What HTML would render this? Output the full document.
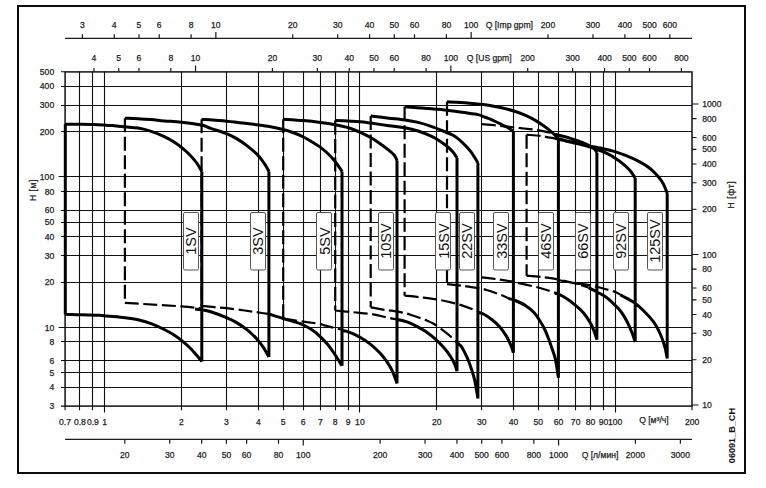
<!DOCTYPE html>
<html><head><meta charset="utf-8"><style>
html,body{margin:0;padding:0;background:#fff;width:766px;height:488px;overflow:hidden}
svg{display:block}
</style></head><body><svg width="766" height="488" viewBox="0 0 766 488"><rect x="18" y="6" width="727" height="467" fill="none" stroke="#000" stroke-width="1.9"/>
<rect x="65.1" y="71.91" width="626.9" height="334.19" stroke="#111" stroke-width="1.5" fill="none"/>
<path d="M61 406.1 H65.1 M61 387.5 H692 M61 372.5 H692 M61 360.5 H692 M61 341.5 H692 M58.7 327.5 H692 M61 282.5 H692 M61 255.5 H692 M61 236.5 H692 M61 222.5 H692 M61 210.5 H692 M61 191.5 H692 M58.7 176.5 H692 M61 131.5 H692 M61 105.5 H692 M61 86.5 H692 M61 71.71 H65.1 M65.05 406.1 V410.3 M79.5 71.5 V410.3 M92.5 71.5 V410.3 M104.5 71.5 V412.4 M181.5 71.5 V410.3 M226.5 71.5 V410.3 M258.5 71.5 V410.3 M283.5 71.5 V410.3 M303.5 71.5 V410.3 M320.5 71.5 V410.3 M335.5 71.5 V410.3 M348.5 71.5 V410.3 M359.5 71.5 V412.4 M436.5 71.5 V410.3 M481.5 71.5 V410.3 M513.5 71.5 V410.3 M538.5 71.5 V410.3 M558.5 71.5 V410.3 M575.5 71.5 V410.3 M590.5 71.5 V410.3 M603.5 71.5 V410.3 M615.5 71.5 V412.4 M692 406.1 V410.3" stroke="#111" stroke-width="1.1" fill="none"/>
<path d="M692 405.06 H698.5 M692 359.76 H696.5 M692 333.26 H696.5 M692 314.45 H696.5 M692 299.87 H696.5 M692 287.95 H696.5 M692 269.15 H696.5 M692 254.56 H698.5 M692 209.26 H696.5 M692 182.76 H696.5 M692 163.95 H696.5 M692 149.37 H696.5 M692 137.45 H696.5 M692 118.65 H696.5 M692 104.06 H698.5" stroke="#111" stroke-width="1.1" fill="none"/>
<path d="M65.1 38.4 H692 M82.37 34.3 V38.4 M114.26 34.3 V38.4 M139 34.3 V38.4 M159.22 34.3 V38.4 M191.12 34.3 V38.4 M215.86 32 V38.4 M292.71 34.3 V38.4 M337.67 34.3 V38.4 M369.56 34.3 V38.4 M394.3 34.3 V38.4 M414.52 34.3 V38.4 M446.42 34.3 V38.4 M471.16 32 V38.4 M548.01 34.3 V38.4 M592.97 34.3 V38.4 M624.86 34.3 V38.4 M649.6 34.3 V38.4 M669.82 34.3 V38.4" stroke="#1a1a1a" stroke-width="1.2" fill="none"/>
<path d="M93.96 68.1 V71.71 M118.7 68.1 V71.71 M138.92 68.1 V71.71 M170.81 68.1 V71.71 M195.55 65.4 V71.71 M272.41 68.1 V71.71 M317.36 68.1 V71.71 M349.26 68.1 V71.71 M374 68.1 V71.71 M394.22 68.1 V71.71 M426.11 68.1 V71.71 M450.85 65.4 V71.71 M527.71 68.1 V71.71 M572.66 68.1 V71.71 M604.56 68.1 V71.71 M629.3 68.1 V71.71 M649.52 68.1 V71.71 M681.41 68.1 V71.71" stroke="#1a1a1a" stroke-width="1.2" fill="none"/>
<path d="M65.1 439.3 H692 M124.81 439.3 V443.7 M169.77 439.3 V443.7 M201.67 439.3 V443.7 M226.41 439.3 V443.7 M246.62 439.3 V443.7 M278.52 439.3 V443.7 M303.26 439.3 V445.6 M380.11 439.3 V443.7 M425.07 439.3 V443.7 M456.97 439.3 V443.7 M481.71 439.3 V443.7 M501.92 439.3 V443.7 M533.82 439.3 V443.7 M558.56 439.3 V445.6 M635.41 439.3 V443.7 M680.37 439.3 V443.7" stroke="#1a1a1a" stroke-width="1.2" fill="none"/>
<g font-family='"Liberation Sans", sans-serif' font-size="8.6" fill="#222" stroke="#222" stroke-width="0.25">
<text x="54.2" y="409.2" text-anchor="end">3</text>
<text x="54.2" y="390.4" text-anchor="end">4</text>
<text x="54.2" y="375.81" text-anchor="end">5</text>
<text x="54.2" y="363.89" text-anchor="end">6</text>
<text x="54.2" y="345.09" text-anchor="end">8</text>
<text x="54.2" y="330.51" text-anchor="end">10</text>
<text x="54.2" y="285.2" text-anchor="end">20</text>
<text x="54.2" y="258.7" text-anchor="end">30</text>
<text x="54.2" y="239.9" text-anchor="end">40</text>
<text x="54.2" y="225.31" text-anchor="end">50</text>
<text x="54.2" y="213.39" text-anchor="end">60</text>
<text x="54.2" y="194.59" text-anchor="end">80</text>
<text x="54.2" y="180.01" text-anchor="end">100</text>
<text x="54.2" y="134.7" text-anchor="end">200</text>
<text x="54.2" y="108.2" text-anchor="end">300</text>
<text x="54.2" y="89.4" text-anchor="end">400</text>
<text x="54.2" y="74.81" text-anchor="end">500</text>
<text x="702.3" y="408.16" text-anchor="start">10</text>
<text x="702.3" y="362.86" text-anchor="start">20</text>
<text x="702.3" y="336.36" text-anchor="start">30</text>
<text x="702.3" y="317.55" text-anchor="start">40</text>
<text x="702.3" y="302.97" text-anchor="start">50</text>
<text x="702.3" y="291.05" text-anchor="start">60</text>
<text x="702.3" y="272.25" text-anchor="start">80</text>
<text x="702.3" y="257.66" text-anchor="start">100</text>
<text x="702.3" y="212.36" text-anchor="start">200</text>
<text x="702.3" y="185.86" text-anchor="start">300</text>
<text x="702.3" y="167.05" text-anchor="start">400</text>
<text x="702.3" y="152.47" text-anchor="start">500</text>
<text x="702.3" y="140.55" text-anchor="start">600</text>
<text x="702.3" y="121.75" text-anchor="start">800</text>
<text x="702.3" y="107.16" text-anchor="start">1000</text>
<text x="65.05" y="424.9" text-anchor="middle">0.7</text>
<text x="79.86" y="424.9" text-anchor="middle">0.8</text>
<text x="92.92" y="424.9" text-anchor="middle">0.9</text>
<text x="104.6" y="424.9" text-anchor="middle">1</text>
<text x="181.45" y="424.9" text-anchor="middle">2</text>
<text x="226.41" y="424.9" text-anchor="middle">3</text>
<text x="258.31" y="424.9" text-anchor="middle">4</text>
<text x="283.05" y="424.9" text-anchor="middle">5</text>
<text x="303.26" y="424.9" text-anchor="middle">6</text>
<text x="320.35" y="424.9" text-anchor="middle">7</text>
<text x="335.16" y="424.9" text-anchor="middle">8</text>
<text x="348.22" y="424.9" text-anchor="middle">9</text>
<text x="359.9" y="424.9" text-anchor="middle">10</text>
<text x="436.75" y="424.9" text-anchor="middle">20</text>
<text x="481.71" y="424.9" text-anchor="middle">30</text>
<text x="513.61" y="424.9" text-anchor="middle">40</text>
<text x="538.35" y="424.9" text-anchor="middle">50</text>
<text x="558.56" y="424.9" text-anchor="middle">60</text>
<text x="575.65" y="424.9" text-anchor="middle">70</text>
<text x="590.46" y="424.9" text-anchor="middle">80</text>
<text x="603.52" y="424.9" text-anchor="middle">90</text>
<text x="615.2" y="424.9" text-anchor="middle">100</text>
<text x="692.05" y="424.9" text-anchor="middle">200</text>
<text x="653.9" y="423.4" text-anchor="middle">Q [м³/ч]</text>
<text x="124.81" y="458.3" text-anchor="middle">20</text>
<text x="169.77" y="458.3" text-anchor="middle">30</text>
<text x="201.67" y="458.3" text-anchor="middle">40</text>
<text x="226.41" y="458.3" text-anchor="middle">50</text>
<text x="246.62" y="458.3" text-anchor="middle">60</text>
<text x="278.52" y="458.3" text-anchor="middle">80</text>
<text x="303.26" y="458.3" text-anchor="middle">100</text>
<text x="380.11" y="458.3" text-anchor="middle">200</text>
<text x="425.07" y="458.3" text-anchor="middle">300</text>
<text x="456.97" y="458.3" text-anchor="middle">400</text>
<text x="481.71" y="458.3" text-anchor="middle">500</text>
<text x="501.92" y="458.3" text-anchor="middle">600</text>
<text x="533.82" y="458.3" text-anchor="middle">800</text>
<text x="558.56" y="458.3" text-anchor="middle">1000</text>
<text x="635.41" y="458.3" text-anchor="middle">2000</text>
<text x="680.37" y="458.3" text-anchor="middle">3000</text>
<text x="600" y="458.4" text-anchor="middle">Q [л/мин]</text>
<text x="82.37" y="28.2" text-anchor="middle">3</text>
<text x="114.26" y="28.2" text-anchor="middle">4</text>
<text x="139" y="28.2" text-anchor="middle">5</text>
<text x="159.22" y="28.2" text-anchor="middle">6</text>
<text x="191.12" y="28.2" text-anchor="middle">8</text>
<text x="215.86" y="28.2" text-anchor="middle">10</text>
<text x="292.71" y="28.2" text-anchor="middle">20</text>
<text x="337.67" y="28.2" text-anchor="middle">30</text>
<text x="369.56" y="28.2" text-anchor="middle">40</text>
<text x="394.3" y="28.2" text-anchor="middle">50</text>
<text x="414.52" y="28.2" text-anchor="middle">60</text>
<text x="446.42" y="28.2" text-anchor="middle">80</text>
<text x="471.16" y="28.2" text-anchor="middle">100</text>
<text x="548.01" y="28.2" text-anchor="middle">200</text>
<text x="592.97" y="28.2" text-anchor="middle">300</text>
<text x="624.86" y="28.2" text-anchor="middle">400</text>
<text x="649.6" y="28.2" text-anchor="middle">500</text>
<text x="669.82" y="28.2" text-anchor="middle">600</text>
<text x="509.3" y="28.2" text-anchor="middle">Q [Imp gpm]</text>
<text x="93.96" y="61.3" text-anchor="middle">4</text>
<text x="118.7" y="61.3" text-anchor="middle">5</text>
<text x="138.92" y="61.3" text-anchor="middle">6</text>
<text x="170.81" y="61.3" text-anchor="middle">8</text>
<text x="195.55" y="61.3" text-anchor="middle">10</text>
<text x="272.41" y="61.3" text-anchor="middle">20</text>
<text x="317.36" y="61.3" text-anchor="middle">30</text>
<text x="349.26" y="61.3" text-anchor="middle">40</text>
<text x="374" y="61.3" text-anchor="middle">50</text>
<text x="394.22" y="61.3" text-anchor="middle">60</text>
<text x="426.11" y="61.3" text-anchor="middle">80</text>
<text x="450.85" y="61.3" text-anchor="middle">100</text>
<text x="527.71" y="61.3" text-anchor="middle">200</text>
<text x="572.66" y="61.3" text-anchor="middle">300</text>
<text x="604.56" y="61.3" text-anchor="middle">400</text>
<text x="629.3" y="61.3" text-anchor="middle">500</text>
<text x="649.52" y="61.3" text-anchor="middle">600</text>
<text x="681.41" y="61.3" text-anchor="middle">800</text>
<text x="489.2" y="61.3" text-anchor="middle">Q [US gpm]</text>
<text transform="translate(36.3 190.1) rotate(-90)" text-anchor="middle" letter-spacing="0.5">H [м]</text>
<text transform="translate(734.3 194.7) rotate(-90)" text-anchor="middle" letter-spacing="0.6">H [фт]</text>
</g>
<text transform="translate(735 435.6) rotate(-90)" text-anchor="middle" font-family='"Liberation Sans", sans-serif' font-size="9.1" font-weight="bold" fill="#111">06091_B_CH</text>
<path d="M124.9 118.3 V302.8 M124.9 302.8 C127.42 302.97 130.58 303.2 140 303.8 C149.42 304.4 171.1 305.62 181.4 306.4 C191.7 307.18 198.4 308.15 201.8 308.5 M201.6 119.2 V305.9 M201.6 305.9 C203.78 306.12 210.55 306.82 214.7 307.2 C218.85 307.58 221.48 307.65 226.5 308.2 C231.52 308.75 239.55 309.8 244.8 310.5 C250.05 311.2 253.83 311.78 258 312.4 C262.17 313.02 267.83 313.9 269.8 314.2 M283.2 119.2 V318.5 M283.2 318.5 C286.57 319.03 297.42 320.83 303.4 321.7 C309.38 322.57 315.6 323.08 319.1 323.7 C322.6 324.32 321.12 324.52 324.4 325.4 C327.68 326.28 335.87 328.25 338.8 329 C341.73 329.75 341.47 329.75 342 329.9 M335.2 120.5 V310.5 M335.2 310.5 C337.73 310.75 346.92 311.67 350.4 312 C353.88 312.33 352.8 312.18 356.1 312.5 C359.4 312.82 366.72 313.45 370.2 313.9 C373.68 314.35 373.52 314.47 377 315.2 C380.48 315.93 387.77 317.6 391.1 318.3 C394.43 319 396.02 319.22 397 319.4 M370.7 116.1 V307.3 M370.7 307.3 C373.05 307.73 381.32 309.33 384.8 309.9 C388.28 310.47 388.2 310.17 391.6 310.7 C395 311.23 401.85 312.35 405.2 313.1 C408.55 313.85 408.33 314.07 411.7 315.2 C415.07 316.33 421.73 318.47 425.4 319.9 C429.07 321.33 430.27 321.67 433.7 323.8 C437.13 325.93 442.45 329.92 446 332.7 C449.55 335.48 453.5 339.2 455 340.5 M404.6 106.8 V295.7 M404.6 295.7 C407.13 295.95 413.87 296.48 419.8 297.2 C425.73 297.92 433.32 298.68 440.2 300 C447.08 301.32 454.8 303.18 461.1 305.1 C467.4 307.02 475.18 310.43 478 311.5 M447 101.8 V284.2 M447 284.2 C449.43 284.45 456.1 285 461.6 285.7 C467.1 286.4 475.53 287.6 480 288.4 C484.47 289.2 484.57 289.28 488.4 290.5 C492.23 291.72 499.4 294.28 503 295.7 C506.6 297.12 508.83 298.45 510 299 M481.8 124.2 C484.17 124.4 491.13 124.93 496 125.4 C500.87 125.87 506.33 126.48 511 127 C515.67 127.52 519.5 127.98 524 128.5 C528.5 129.02 534 129.47 538 130.1 C542 130.73 545.12 131.6 548 132.3 C550.88 133 554.08 133.97 555.3 134.3 M481.6 277.4 C483.95 277.67 490.22 278.22 495.7 279 C501.18 279.78 507.55 280.72 514.5 282.1 C521.45 283.48 531.48 285.82 537.4 287.3 C543.32 288.78 546.68 289.95 550 291 C553.32 292.05 556.08 293.17 557.3 293.6 M526.6 134.7 V275.8 M526.6 134.7 C529.03 134.92 537.63 135.57 541.2 136 C544.77 136.43 545.7 136.92 548 137.3 C550.3 137.68 553.83 138.13 555 138.3 M526.6 275.8 C528.93 275.98 535.03 276.23 540.6 276.9 C546.17 277.57 554.27 278.7 560 279.8 C565.73 280.9 570.25 282.22 575 283.5 C579.75 284.78 586.25 286.83 588.5 287.5 M558.4 280 C561.17 280.55 570.87 282.6 575 283.3 C579.13 284 580.2 283.77 583.2 284.2 C586.2 284.63 590.27 285.35 593 285.9 C595.73 286.45 596.05 286.55 599.6 287.5 C603.15 288.45 610.73 290.35 614.3 291.6 C617.87 292.85 619.88 294.43 621 295" stroke="#000" stroke-width="2.2" fill="none" stroke-dasharray="14 4.5"/>
<path d="M65.3 124.2 V314.3 M65.3 124.2 C67.9 124.2 76.22 124.15 80.9 124.2 C85.58 124.25 89.4 124.35 93.4 124.5 C97.4 124.65 101.77 124.92 104.9 125.1 C108.03 125.28 108.85 125.32 112.2 125.6 C115.55 125.88 120.68 126.38 125 126.8 C129.32 127.22 133.73 127.33 138.1 128.1 C142.47 128.87 146.83 129.98 151.2 131.4 C155.57 132.82 160.37 134.75 164.3 136.6 C168.23 138.45 171.73 140.53 174.8 142.5 C177.87 144.47 180.07 146.2 182.7 148.4 C185.33 150.6 188.2 153.18 190.6 155.7 C193 158.22 195.23 160.88 197.1 163.5 C198.97 166.12 201.02 170.08 201.8 171.4 M201.8 171.4 V361.6 M65.3 314.3 C67.9 314.38 75.17 314.63 80.9 314.8 C86.63 314.97 95.35 315.08 99.7 315.3 C104.05 315.52 102.78 315.7 107 316.1 C111.22 316.5 119.82 317.1 125 317.7 C130.18 318.3 133.73 318.72 138.1 319.7 C142.47 320.68 146.83 321.97 151.2 323.6 C155.57 325.23 160.37 327.53 164.3 329.5 C168.23 331.47 171.73 333.43 174.8 335.4 C177.87 337.37 180.07 339.12 182.7 341.3 C185.33 343.48 188.3 346.2 190.6 348.5 C192.9 350.8 194.63 352.92 196.5 355.1 C198.37 357.28 200.92 360.52 201.8 361.6 M124.9 118.3 C127.1 118.37 133.72 118.48 138.1 118.7 C142.48 118.92 146.83 119.23 151.2 119.6 C155.57 119.97 159.27 120.47 164.3 120.9 C169.33 121.33 175.18 121.52 181.4 122.2 C187.62 122.88 196.72 123.97 201.6 125 C206.48 126.03 206.55 126.97 210.7 128.4 C214.85 129.83 222.12 131.85 226.5 133.6 C230.88 135.35 233.5 136.82 237 138.9 C240.5 140.98 244 143.37 247.5 146.1 C251 148.83 254.95 152.02 258 155.3 C261.05 158.58 263.98 163.1 265.8 165.8 C267.62 168.5 268.38 170.55 268.9 171.5 M268.9 171.5 V357 M195 309.1 C196.1 309.22 198.98 309.35 201.6 309.8 C204.22 310.25 206.55 310.48 210.7 311.8 C214.85 313.12 222.12 315.85 226.5 317.7 C230.88 319.55 233.5 320.83 237 322.9 C240.5 324.97 244.23 327.47 247.5 330.1 C250.77 332.73 253.98 335.85 256.6 338.7 C259.22 341.55 261.15 344.15 263.2 347.2 C265.25 350.25 267.95 355.37 268.9 357 M201.6 119.2 C205.75 119.53 218.85 120.47 226.5 121.2 C234.15 121.93 240.58 122.75 247.5 123.6 C254.42 124.45 262.07 125.32 268 126.3 C273.93 127.28 278.73 128.38 283.1 129.5 C287.47 130.62 290.82 131.75 294.2 133 C297.58 134.25 300.33 135.47 303.4 137 C306.47 138.53 309.75 140.47 312.6 142.2 C315.45 143.93 317.88 145.43 320.5 147.4 C323.12 149.37 325.9 151.7 328.3 154 C330.7 156.3 332.93 158.8 334.9 161.2 C336.87 163.6 338.92 166.65 340.1 168.4 C341.28 170.15 341.68 171.15 342 171.7 M342 171.7 V365.8 M269.3 314.1 C271.6 314.83 278.95 317.23 283.1 318.5 C287.25 319.77 290.82 320.62 294.2 321.7 C297.58 322.78 300.33 323.57 303.4 325 C306.47 326.43 309.75 328.33 312.6 330.3 C315.45 332.27 317.88 334.3 320.5 336.8 C323.12 339.3 325.9 342.35 328.3 345.3 C330.7 348.25 332.62 351.08 334.9 354.5 C337.18 357.92 340.82 363.92 342 365.8 M283.2 119.2 C286.57 119.43 297.18 120.05 303.4 120.6 C309.62 121.15 315.2 121.8 320.5 122.5 C325.8 123.2 330.55 123.93 335.2 124.8 C339.85 125.67 344.23 126.45 348.4 127.7 C352.57 128.95 356.48 130.67 360.2 132.3 C363.92 133.93 367.43 135.65 370.7 137.5 C373.97 139.35 376.97 141.43 379.8 143.4 C382.63 145.37 385.28 147.33 387.7 149.3 C390.12 151.27 392.75 153.33 394.3 155.2 C395.85 157.07 396.55 159.62 397 160.5 M397 160.5 V383.5 M341.6 330.1 C342.68 330.38 345.7 330.97 348.1 331.8 C350.5 332.63 353.15 333.67 356 335.1 C358.85 336.53 362.37 338.53 365.2 340.4 C368.03 342.27 370.38 344.02 373 346.3 C375.62 348.58 378.48 351.37 380.9 354.1 C383.32 356.83 385.53 359.75 387.5 362.7 C389.47 365.65 391.12 368.33 392.7 371.8 C394.28 375.27 396.28 381.55 397 383.5 M335.2 120.5 C337.4 120.6 344.23 120.88 348.4 121.1 C352.57 121.32 356.48 121.47 360.2 121.8 C363.92 122.13 365.9 122.45 370.7 123.1 C375.5 123.75 383.28 124.93 389 125.7 C394.72 126.47 400.15 126.82 405 127.7 C409.85 128.58 413.73 129.58 418.1 131 C422.47 132.42 427.48 134.47 431.2 136.2 C434.92 137.93 437.55 139.55 440.4 141.4 C443.25 143.25 446.12 145.43 448.3 147.3 C450.48 149.17 452.05 150.82 453.5 152.6 C454.95 154.38 456.42 157.1 457 158 M457 158 V371.3 M396.8 319.3 C398.37 319.7 403.03 320.62 406.2 321.7 C409.37 322.78 412.6 324.2 415.8 325.8 C419 327.4 422.18 329.12 425.4 331.3 C428.62 333.48 432.12 336.27 435.1 338.9 C438.08 341.53 440.78 344.25 443.3 347.1 C445.82 349.95 448.25 353.05 450.2 356 C452.15 358.95 453.87 362.25 455 364.8 C456.13 367.35 456.67 370.22 457 371.3 M370.7 116.1 C373.75 116.45 383.28 117.55 389 118.2 C394.72 118.85 400.15 119.3 405 120 C409.85 120.7 413.73 121.33 418.1 122.4 C422.47 123.47 427.05 124.97 431.2 126.4 C435.35 127.83 439.28 129.48 443 131 C446.72 132.52 450.22 133.53 453.5 135.5 C456.78 137.47 459.85 140.17 462.7 142.8 C465.55 145.43 468.3 148.35 470.6 151.3 C472.9 154.25 475.28 158.53 476.5 160.5 C477.72 162.47 477.67 162.67 477.9 163.1 M477.9 163.1 V398.4 M455 340.5 C455.8 341.25 458.58 343.77 459.8 345 C461.02 346.23 461.02 345.67 462.3 347.9 C463.58 350.13 466 354.93 467.5 358.4 C469 361.87 470.08 364.98 471.3 368.7 C472.52 372.42 473.7 375.75 474.8 380.7 C475.9 385.65 477.38 395.45 477.9 398.4 M404.6 106.8 C407.95 107.05 418.08 107.77 424.7 108.3 C431.32 108.83 437.75 109.28 444.3 110 C450.85 110.72 458.38 111.83 464 112.6 C469.62 113.37 474.65 113.9 478 114.6 C481.35 115.3 482.05 116.03 484.1 116.8 C486.15 117.57 488.25 118.33 490.3 119.2 C492.35 120.07 494.35 121.02 496.4 122 C498.45 122.98 500.55 124.08 502.6 125.1 C504.65 126.12 506.9 127.03 508.7 128.1 C510.5 129.17 512.62 130.93 513.4 131.5 M513.4 131 V352.8 M477.3 311.6 C478.4 312.05 481.5 312.98 483.9 314.3 C486.3 315.62 489.08 317.43 491.7 319.5 C494.32 321.57 497.18 323.97 499.6 326.7 C502.02 329.43 504.33 332.83 506.2 335.9 C508.07 338.97 509.6 342.28 510.8 345.1 C512 347.92 512.97 351.52 513.4 352.8 M447 101.8 C449.32 101.92 455.1 102.07 460.9 102.5 C466.7 102.93 476.95 103.92 481.8 104.4 C486.65 104.88 486.9 104.88 490 105.4 C493.1 105.92 496.57 106.62 500.4 107.5 C504.23 108.38 508.98 109.48 513 110.7 C517.02 111.92 520.85 113.23 524.5 114.8 C528.15 116.37 531.6 118.18 534.9 120.1 C538.2 122.02 541.33 124.15 544.3 126.3 C547.27 128.45 550.35 130.92 552.7 133 C555.05 135.08 557.45 137.83 558.4 138.8 M558.4 138.8 V377.7 M509 298.6 C510.05 298.92 512.5 299.32 515.3 300.5 C518.1 301.68 522.73 303.73 525.8 305.7 C528.87 307.67 531.33 309.75 533.7 312.3 C536.07 314.85 538.12 318.05 540 321 C541.88 323.95 543.5 326.83 545 330 C546.5 333.17 547.75 336.67 549 340 C550.25 343.33 551.43 346.78 552.5 350 C553.57 353.22 554.42 354.68 555.4 359.3 C556.38 363.92 557.9 374.63 558.4 377.7 M555.3 134.3 C557.7 134.93 565.12 136.7 569.7 138.1 C574.28 139.5 578.87 141.05 582.8 142.7 C586.73 144.35 590.95 146.37 593.3 148 C595.65 149.63 596.3 151.75 596.9 152.5 M596.9 152.5 V339.7 M555 293 C556.32 293.55 559.62 294.37 562.9 296.3 C566.18 298.23 571.25 301.82 574.7 304.6 C578.15 307.38 580.98 309.92 583.6 313 C586.22 316.08 588.5 319.67 590.4 323.1 C592.3 326.53 593.92 330.83 595 333.6 C596.08 336.37 596.58 338.68 596.9 339.7 M555 138.3 C556.78 138.75 562.17 140.15 565.7 141 C569.23 141.85 572.7 142.57 576.2 143.4 C579.7 144.23 583.42 145.07 586.7 146 C589.98 146.93 593.68 148.25 595.9 149 C598.12 149.75 598 149.7 600 150.5 C602 151.3 605.28 152.48 607.9 153.8 C610.52 155.12 613.08 156.65 615.7 158.4 C618.32 160.15 621.18 162.23 623.6 164.3 C626.02 166.37 628.27 168.52 630.2 170.8 C632.13 173.08 634.37 176.8 635.2 178 M635.2 178 V341.9 M588.5 287.7 C589.93 288.42 594.43 290.6 597.1 292 C599.77 293.4 602.03 294.4 604.5 296.1 C606.97 297.8 609.17 299.63 611.9 302.2 C614.63 304.77 618.3 308.12 620.9 311.5 C623.5 314.88 625.63 318.92 627.5 322.5 C629.37 326.08 630.82 329.77 632.1 333 C633.38 336.23 634.68 340.42 635.2 341.9 M558.4 138.8 C561.37 139.53 569.95 141.78 576.2 143.2 C582.45 144.62 591.93 146.52 595.9 147.3 C599.87 148.08 597.13 147.27 600 147.9 C602.87 148.53 608.73 149.8 613.1 151.1 C617.47 152.4 621.83 153.95 626.2 155.7 C630.57 157.45 635.37 159.52 639.3 161.6 C643.23 163.68 646.73 165.78 649.8 168.2 C652.87 170.62 655.5 173.58 657.7 176.1 C659.9 178.62 661.47 180.57 663 183.3 C664.53 186.03 666.2 190.72 666.9 192.5 C667.6 194.28 667.15 193.75 667.2 194 M667.2 194 V358.5 M620.5 294.9 C620.8 295.08 620.03 294.72 622.3 296 C624.57 297.28 630.38 299.98 634.1 302.6 C637.82 305.22 641.32 308.43 644.6 311.7 C647.88 314.97 651.18 318.48 653.8 322.2 C656.42 325.92 658.45 329.85 660.3 334 C662.15 338.15 663.75 343.02 664.9 347.1 C666.05 351.18 666.82 356.6 667.2 358.5" stroke="#000" stroke-width="3.0" fill="none" stroke-linejoin="round"/>
<g font-family='"Liberation Sans", sans-serif' font-size="14.5" fill="#111">
<rect x="183.5" y="212.5" width="15" height="57.5" rx="1.5" fill="#fff" stroke="#555" stroke-width="1"/>
<text transform="translate(196.2 241.1) rotate(-90)" text-anchor="middle">1SV</text>
<rect x="250.5" y="212.5" width="15" height="57.5" rx="1.5" fill="#fff" stroke="#555" stroke-width="1"/>
<text transform="translate(263.2 241.1) rotate(-90)" text-anchor="middle">3SV</text>
<rect x="316.5" y="212.5" width="15" height="57.5" rx="1.5" fill="#fff" stroke="#555" stroke-width="1"/>
<text transform="translate(329.5 241.1) rotate(-90)" text-anchor="middle">5SV</text>
<rect x="378.5" y="212.5" width="15" height="57.5" rx="1.5" fill="#fff" stroke="#555" stroke-width="1"/>
<text transform="translate(391.2 241.1) rotate(-90)" text-anchor="middle">10SV</text>
<rect x="435.5" y="212.5" width="15" height="57.5" rx="1.5" fill="#fff" stroke="#555" stroke-width="1"/>
<text transform="translate(448.5 241.1) rotate(-90)" text-anchor="middle">15SV</text>
<rect x="459.5" y="212.5" width="15" height="57.5" rx="1.5" fill="#fff" stroke="#555" stroke-width="1"/>
<text transform="translate(472.2 241.1) rotate(-90)" text-anchor="middle">22SV</text>
<rect x="493.5" y="212.5" width="15" height="57.5" rx="1.5" fill="#fff" stroke="#555" stroke-width="1"/>
<text transform="translate(506.5 241.1) rotate(-90)" text-anchor="middle">33SV</text>
<rect x="538.5" y="212.5" width="15" height="57.5" rx="1.5" fill="#fff" stroke="#555" stroke-width="1"/>
<text transform="translate(550.8 241.1) rotate(-90)" text-anchor="middle">46SV</text>
<rect x="575.5" y="212.5" width="15" height="57.5" rx="1.5" fill="#fff" stroke="#555" stroke-width="1"/>
<text transform="translate(587.8 241.1) rotate(-90)" text-anchor="middle">66SV</text>
<rect x="613.5" y="212.5" width="15" height="57.5" rx="1.5" fill="#fff" stroke="#555" stroke-width="1"/>
<text transform="translate(625.9 241.1) rotate(-90)" text-anchor="middle">92SV</text>
<rect x="647.5" y="212.5" width="15" height="57.5" rx="1.5" fill="#fff" stroke="#555" stroke-width="1"/>
<text transform="translate(660.1 241.1) rotate(-90)" text-anchor="middle">125SV</text>
</g></svg></body></html>
